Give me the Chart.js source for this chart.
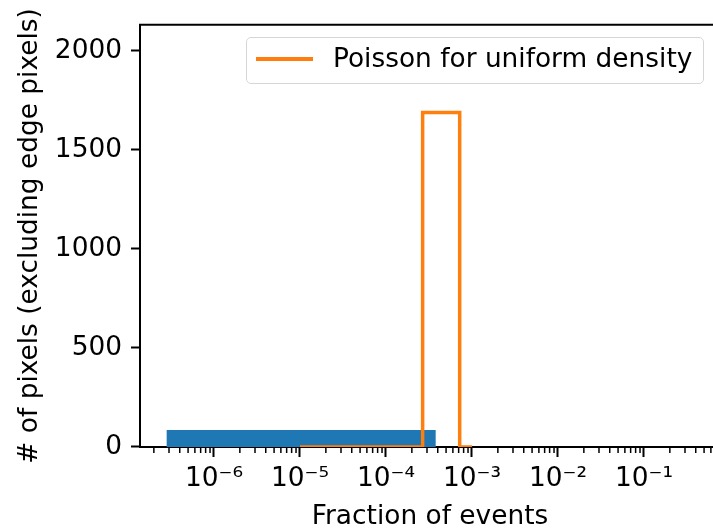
<!DOCTYPE html>
<html>
<head>
<meta charset="utf-8">
<script src="https://cdn.jsdelivr.net/npm/chart.js@4"></script>
<style>
  html, body { margin: 0; background: #fff; overflow: hidden; }
  #wrap { position: relative; width: 720px; height: 531px; }
  #legend { position: absolute; left: 246px; top: 37px; width: 456px; height: 45px;
    border: 1.5px solid #d6d6d6; border-radius: 5px; background: rgba(255,255,255,0.8);
    font-family: "DejaVu Sans"; font-size: 26.4px; color: #000; }
  #legend .swatch { position: absolute; left: 9px; top: 19px; width: 57px; height: 3.5px; background: #ff7f0e; }
  #legend .txt { position: absolute; left: 86px; top: 5px; line-height: 30px; white-space: nowrap; }
</style>
</head>
<body>
<div id="wrap">
  <canvas id="grafico"></canvas>
  <div id="legend"><span class="swatch"></span><span class="txt">Poisson for uniform density</span></div>
</div>
<script>
// histograma observado (una sola barra)
const binEdges = [2.8e-7, 3.8e-4];
const binCounts = [86];
// curva de Poisson (histograma tipo "step")
const poissonEdges = [1e-5, 2.67e-4, 7.2e-4, 1e-3];
const poissonCounts = [0, 1688, 0];
// ejes
const yTicks = [0, 500, 1000, 1500, 2000];
const xRange = [1.38e-7, 0.766];
const yRange = [0, 2131];

const sup = {'-': '⁻', '0': '⁰', '1': '¹', '2': '²', '3': '³', '4': '⁴', '5': '⁵', '6': '⁶', '7': '⁷', '8': '⁸', '9': '⁹'};

function esPotencia(v) {
  const l = Math.log10(v);
  return Math.abs(l - Math.round(l)) < 1e-6;
}

// puntos del escalon: cada borde lleva el valor del bin que empieza ahi
function escalon(edges, counts) {
  return edges.map((e, i) => ({x: e, y: counts[Math.min(i, counts.length - 1)]}));
}

const marcos = {
  id: 'marcos',
  afterDraw(chart) {
    const {ctx, chartArea: a, scales: {x}} = chart;
    ctx.save();
    ctx.strokeStyle = '#000';
    ctx.lineWidth = 1.5;
    x.ticks.forEach(t => {
      if (esPotencia(t.value)) return;
      const px = x.getPixelForValue(t.value);
      ctx.beginPath();
      ctx.moveTo(px, a.bottom);
      ctx.lineTo(px, a.bottom + 6);
      ctx.stroke();
    });
    // borde superior
    ctx.lineWidth = 2;
    ctx.beginPath();
    ctx.moveTo(a.left - 1, a.top);
    ctx.lineTo(a.right, a.top);
    ctx.stroke();
    ctx.restore();
  }
};

Chart.defaults.font.family = 'DejaVu Sans';
Chart.defaults.font.size = 26.4;
Chart.defaults.color = '#000';

new Chart(document.getElementById('grafico'), {
  type: 'line',
  data: {
    datasets: [{
      label: 'Poisson for uniform density',
      data: escalon(poissonEdges, poissonCounts),
      borderColor: '#ff7f0e',
      borderWidth: 3.5,
      stepped: true,
      pointRadius: 0,
      fill: false,
      order: 1
    }, {
      label: 'data',
      data: escalon(binEdges, binCounts),
      borderWidth: 0,
      borderColor: 'rgba(0,0,0,0)',
      backgroundColor: '#1f77b4',
      stepped: true,
      pointRadius: 0,
      fill: 'origin',
      order: 2
    }]
  },
  options: {
    responsive: true,
    maintainAspectRatio: false,
    animation: false,
    layout: { padding: { top: 24, right: 0, bottom: 0, left: 0 } },
    plugins: { legend: { display: false }, tooltip: { enabled: false } },
    scales: {
      x: {
        type: 'logarithmic',
        min: xRange[0],
        max: xRange[1],
        afterBuildTicks: (scale) => {
          const ticks = [];
          for (let e = -8; e <= 1; e++) {
            for (let k = 1; k <= 9; k++) {
              const v = k * Math.pow(10, e);
              if (v >= scale.min && v <= scale.max) ticks.push({value: v});
            }
          }
          scale.ticks = ticks;
        },
        afterFit: (scale) => {
          scale.height = 84;
          scale.paddingLeft = 0;
          scale.paddingRight = 0;
        },
        border: { color: '#000', width: 2 },
        grid: {
          drawOnChartArea: false,
          tickLength: 10,
          tickWidth: 2,
          tickColor: (c) => (c.tick && esPotencia(c.tick.value)) ? '#000' : 'rgba(0,0,0,0)'
        },
        ticks: {
          autoSkip: false,
          maxRotation: 0,
          padding: 6,
          callback: (v) => {
            if (!esPotencia(v)) return '';
            const e = Math.round(Math.log10(v));
            return '10' + String(e).split('').map(c => sup[c]).join('');
          }
        },
        title: { display: true, text: 'Fraction of events', padding: { top: 0, bottom: -2 } }
      },
      y: {
        type: 'linear',
        min: yRange[0],
        max: yRange[1],
        afterBuildTicks: (scale) => { scale.ticks = yTicks.map(v => ({value: v})); },
        afterFit: (scale) => { scale.width = 140; },
        border: { color: '#000', width: 2 },
        grid: { drawOnChartArea: false, tickLength: 9, tickWidth: 2, tickColor: '#000' },
        ticks: { padding: 9, callback: (v) => String(v) },
        title: { display: true, text: '# of pixels (excluding edge pixels)', padding: { top: 14, bottom: 0 } }
      }
    }
  },
  plugins: [marcos]
});
</script>
</body>
</html>
